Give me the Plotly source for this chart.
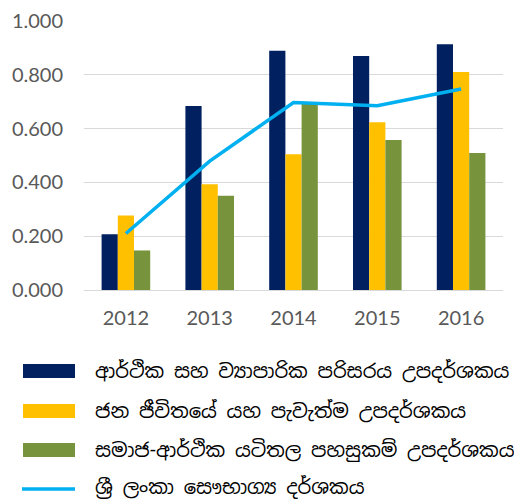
import plotly.graph_objects as go

years = ["2012", "2013", "2014", "2015", "2016"]
series_names = [
    "ආර්ථික සහ ව්‍යාපාරික පරිසරය උපදර්ශකය",
    "ජන ජීවිතයේ යහ පැවැත්ම උපදර්ශකය",
    "සමාජ-ආර්ථික යටිතල පහසුකම් උපදර්ශකය",
    "ශ්‍රී ලංකා සෞභාග්‍ය දර්ශකය",
]
economic = [0.207, 0.684, 0.889, 0.870, 0.914]
wellbeing = [0.277, 0.393, 0.505, 0.624, 0.810]
infrastructure = [0.147, 0.350, 0.692, 0.558, 0.509]
prosperity = [0.210, 0.479, 0.697, 0.685, 0.747]
ytick_vals = [0, 0.2, 0.4, 0.6, 0.8, 1.0]
ytick_text = ["0.000", "0.200", "0.400", "0.600", "0.800", "1.000"]

colors = ["#002060", "#FFC000", "#77933C", "#00B0F0"]

fig = go.Figure()
for name, vals, c in zip(series_names[:3], [economic, wellbeing, infrastructure], colors[:3]):
    fig.add_trace(go.Bar(x=years, y=vals, name=name, marker=dict(color=c, line=dict(width=0))))
fig.add_trace(go.Scatter(x=years, y=prosperity, name=series_names[3], mode="lines",
                         line=dict(color=colors[3], width=3.5)))

# page body adds an 8px offset; figure sized so it fits the 522x499 window
OFF = 8
W, H = 522 - OFF, 499 - OFF
ml, mr, mt, mb = 84 - OFF, 19, 21 - OFF, 209
plot_h = H - mt - mb
plot_w = W - ml - mr

def py(Y):
    return (H - mb - (Y - OFF)) / plot_h

def px(X):
    return ((X - OFF) - ml) / plot_w

shapes = []
annotations = []
rows = [371, 411, 450, 487]
for i, (name, c) in enumerate(zip(series_names, colors)):
    yc = rows[i]
    if i < 3:
        shapes.append(dict(type="rect", xref="paper", yref="paper",
                           x0=px(23), x1=px(75), y0=py(yc + 7), y1=py(yc - 7),
                           fillcolor=c, line=dict(width=0)))
    else:
        shapes.append(dict(type="line", xref="paper", yref="paper",
                           x0=px(22), x1=px(75), y0=py(yc + 2), y1=py(yc + 2),
                           line=dict(color=c, width=3.5)))
    annotations.append(dict(text=name, xref="paper", yref="paper", x=px(93), y=py(yc),
                            xanchor="left", yanchor="middle", showarrow=False,
                            font=dict(size=19.5, color="#000000",
                                      family="Noto Sans Sinhala, Iskoola Pota, Lato, sans-serif")))

fig.update_layout(
    width=W, height=H,
    margin=dict(l=ml, r=mr, t=mt, b=mb, autoexpand=False),
    paper_bgcolor="white", plot_bgcolor="white",
    barmode="group", bargap=0.42, bargroupgap=0,
    showlegend=False,
    font=dict(family="Lato, sans-serif", color="#595959", size=20),
    xaxis=dict(showgrid=False, showline=False, ticks="", ticklabelstandoff=14,
               tickfont=dict(size=20, color="#595959")),
    yaxis=dict(range=[0, 1.0], tickvals=ytick_vals, ticktext=ytick_text,
               showgrid=True, gridcolor="#D9D9D9", gridwidth=1.3,
               zeroline=True, zerolinecolor="#D9D9D9", zerolinewidth=1.3,
               showline=False, ticks="", ticklen=0, ticklabelstandoff=20,
               tickfont=dict(size=20, color="#595959")),
    shapes=shapes, annotations=annotations,
)
fig.write_html("out.html")
